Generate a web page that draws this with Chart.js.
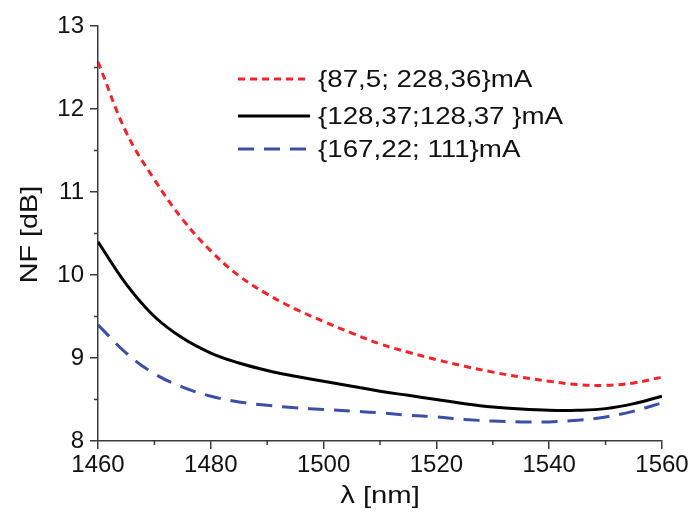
<!DOCTYPE html>
<html>
<head>
<meta charset="utf-8">
<script src="https://cdn.jsdelivr.net/npm/chart.js@4/dist/chart.umd.min.js"></script>
<style>
  html, body { margin: 0; padding: 0; background: #fff; }
  #wrap { width: 691px; height: 517px; position: relative; }
</style>
</head>
<body>
<div id="wrap"><canvas id="c" width="691" height="517"></canvas></div>
<script>
const wavelengths = [1460,1465,1470,1475,1480,1485,1490,1495,1500,1505,1510,1515,1520,1525,1530,1535,1540,1545,1550,1555,1560];
const nfRed   = [12.57,11.72,11.15,10.67,10.29,9.99,9.77,9.59,9.44,9.30,9.17,9.07,8.98,8.90,8.83,8.77,8.72,8.68,8.67,8.70,8.77];
const nfBlack = [10.40,9.89,9.50,9.24,9.06,8.94,8.85,8.78,8.72,8.66,8.60,8.55,8.50,8.45,8.41,8.385,8.37,8.37,8.39,8.45,8.54];
const nfBlue  = [9.40,9.06,8.81,8.65,8.54,8.47,8.43,8.40,8.38,8.36,8.34,8.31,8.29,8.26,8.24,8.23,8.23,8.25,8.29,8.36,8.46];
const seriesLabels = ['{87,5; 228,36}mA', '{128,37;128,37 }mA', '{167,22; 111}mA'];
const xTicks = [1460,1480,1500,1520,1540,1560];
const yTicks = [8,9,10,11,12,13];
const xTitle = 'λ [nm]';
const yTitle = 'NF [dB]';

const FONT = "'Liberation Sans', Arial, sans-serif";
const AXIS_COLOR = '#3a3a3a';

const pts = arr => wavelengths.map((x,i)=>({x, y: arr[i]}));

const minorTicks = {
  id: 'minorTicks',
  afterDraw(chart) {
    const ctx = chart.ctx;
    const xs = chart.scales.x, ys = chart.scales.y;
    ctx.save();
    ctx.strokeStyle = AXIS_COLOR;
    ctx.lineWidth = 1.5;
    for (let i = 0; i < xTicks.length - 1; i++) {
      const v = (xTicks[i] + xTicks[i+1]) / 2;
      const px = xs.getPixelForValue(v);
      ctx.beginPath(); ctx.moveTo(px, ys.bottom); ctx.lineTo(px, ys.bottom + 4); ctx.stroke();
    }
    for (let i = 0; i < yTicks.length - 1; i++) {
      const v = (yTicks[i] + yTicks[i+1]) / 2;
      const py = ys.getPixelForValue(v);
      ctx.beginPath(); ctx.moveTo(xs.left, py); ctx.lineTo(xs.left - 4, py); ctx.stroke();
    }
    ctx.restore();
  }
};

const axisTitles = {
  id: 'axisTitles',
  afterDraw(chart) {
    const ctx = chart.ctx;
    const xs = chart.scales.x, ys = chart.scales.y;
    ctx.save();
    ctx.font = '24px ' + FONT;
    ctx.fillStyle = '#111';
    ctx.textAlign = 'center';
    ctx.textBaseline = 'middle';
    ctx.save();
    ctx.translate((xs.left + xs.right) / 2, 496);
    ctx.scale(1.22, 1);
    ctx.fillText(xTitle, 0, 0);
    ctx.restore();
    ctx.save();
    ctx.translate(30, (ys.top + ys.bottom) / 2 + 1);
    ctx.rotate(-Math.PI / 2);
    ctx.scale(1.2, 1);
    ctx.fillText(yTitle, 0, 0);
    ctx.restore();
    ctx.restore();
  }
};

const innerLegend = {
  id: 'innerLegend',
  afterDraw(chart) {
    const ctx = chart.ctx;
    const rows = [79, 116, 149];
    ctx.save();
    ctx.font = '24px ' + FONT;
    ctx.textBaseline = 'middle';
    chart.data.datasets.forEach((ds, i) => {
      const y = rows[i];
      ctx.strokeStyle = ds.borderColor;
      ctx.lineWidth = ds.borderWidth;
      ctx.setLineDash(ds.borderDash || []);
      ctx.beginPath(); ctx.moveTo(238, y); ctx.lineTo(310, y); ctx.stroke();
      ctx.setLineDash([]);
      ctx.fillStyle = '#111';
      ctx.save();
      ctx.translate(318, y + 1);
      ctx.scale(1.155, 1);
      ctx.fillText(seriesLabels[i], 0, 0);
      ctx.restore();
    });
    ctx.restore();
  }
};

new Chart(document.getElementById('c'), {
  type: 'line',
  data: {
    datasets: [
      { label: seriesLabels[0], data: pts(nfRed), borderColor: '#f2232b', borderWidth: 3, borderDash: [7,5], pointRadius: 0, tension: 0.4, fill: false },
      { label: seriesLabels[1], data: pts(nfBlack), borderColor: '#000000', borderWidth: 3, pointRadius: 0, tension: 0.4, fill: false },
      { label: seriesLabels[2], data: pts(nfBlue), borderColor: '#3b4fa6', borderWidth: 3, borderDash: [16,10], pointRadius: 0, tension: 0.4, fill: false }
    ]
  },
  options: {
    responsive: false,
    animation: false,
    events: [],
    layout: { padding: { top: 26, right: 29, left: 0, bottom: 0 } },
    plugins: { legend: { display: false }, tooltip: { enabled: false } },
    scales: {
      x: {
        type: 'linear', min: 1460, max: 1560,
        afterBuildTicks: s => { s.ticks = xTicks.map(v => ({value: v})); },
        afterFit: s => { s.height = 76; },
        grid: { display: true, drawOnChartArea: false, drawTicks: true, tickLength: 8, color: AXIS_COLOR, lineWidth: 1.5 },
        border: { display: true, color: AXIS_COLOR, width: 1.5 },
        ticks: { color: '#111', font: { family: FONT, size: 24 }, padding: 2, maxRotation: 0, callback: v => String(v) }
      },
      y: {
        type: 'linear', min: 8, max: 13,
        afterBuildTicks: s => { s.ticks = yTicks.map(v => ({value: v})); },
        afterFit: s => { s.width = 98; },
        grid: { display: true, drawOnChartArea: false, drawTicks: true, tickLength: 8, color: AXIS_COLOR, lineWidth: 1.5 },
        border: { display: true, color: AXIS_COLOR, width: 1.5 },
        ticks: { color: '#111', font: { family: FONT, size: 24 }, padding: 6, callback: v => String(v) }
      }
    }
  },
  plugins: [minorTicks, axisTitles, innerLegend]
});
</script>
</body>
</html>
